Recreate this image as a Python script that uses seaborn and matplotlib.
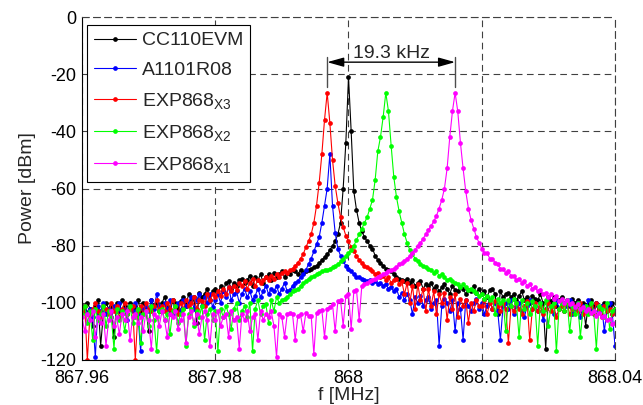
import numpy as np
import pandas as pd
import matplotlib
matplotlib.use("Agg")
import matplotlib.pyplot as plt
from matplotlib.ticker import FuncFormatter
import seaborn as sns

# spectrum bins, 0.4 kHz apart
freq = np.linspace(867.96, 868.04, 201)

cc110evm = [
    -101, -103, -100, -102, -108, -101, -99, -115, -104, -100,
    -102, -101, -112, -100, -103, -99, -101, -104, -100, -102,
    -101, -99, -103, -100, -102, -110, -99, -101, -100, -103,
    -100, -98, -101, -104, -99, -100, -102, -99.5, -98, -101,
    -97, -99, -98, -107, -96.5, -98, -97, -95, -99, -96,
    -95, -97, -94, -96, -93, -92.5, -95, -93, -94, -92,
    -91.5, -93, -92, -90.5, -94, -91, -92, -90, -93, -91,
    -90, -92, -89.5, -91, -90, -89, -91, -89.5, -90, -88.5,
    -89, -90, -88.5, -89.5, -89, -88.5, -88, -87.5, -87, -86,
    -85, -84, -83, -81.5, -80, -78.5, -76, -72, -60, -44,
    -21, -40, -61, -67.5, -72, -75, -77, -78.5, -80, -81,
    -83.5, -85, -86, -87, -88, -88.5, -89, -90, -91, -91.5,
    -92, -92.5, -91.5, -93, -92, -94, -93, -92.5, -95, -93.5,
    -94, -93, -95, -94, -96, -94.5, -93.5, -95, -97, -94,
    -95.5, -96, -94.5, -95, -97, -95.5, -96, -94, -96.5, -95,
    -97, -96, -98, -95.5, -95, -97, -104, -96, -98, -97,
    -96.5, -98, -97, -99, -97.5, -96, -99, -98, -100, -97.5,
    -98.5, -99, -97, -100, -116, -98, -99.5, -98, -101, -99,
    -98, -100, -99, -101, -98.5, -100, -99, -102, -100, -108,
    -100.5, -99, -101, -100, -102, -101, -100, -103, -101, -100,
    -102,
]

a1101r08 = [
    -103, -101, -104, -102, -105, -119, -101, -103, -100, -104,
    -102, -105, -101, -103, -100, -104, -102, -106, -101, -103,
    -100, -104, -117, -102, -101, -103, -99, -102, -97, -101,
    -103, -100, -102, -99, -104, -101, -100, -103, -99, -101,
    -100, -98, -102, -99, -97, -101, -98, -100, -97, -101.5,
    -99, -97, -100, -96, -98, -94.5, -99, -97, -96, -100,
    -97, -95, -98, -96, -99, -97.5, -95, -98, -96, -94,
    -97, -95, -96, -94, -97, -95, -93, -96, -95.5, -94,
    -93, -92.5, -91, -90, -88.5, -86.5, -84.5, -82, -79.5, -77,
    -72, -66, -60, -48, -66, -75.5, -81, -83.5, -85.5, -87,
    -88, -89, -90, -91, -91, -91.5, -92, -92.5, -92, -93,
    -92.5, -93.5, -93, -94, -93.5, -95, -94.5, -96, -95, -98,
    -96.5, -99, -97, -99, -104, -98, -100, -97.5, -101, -99,
    -98, -102, -100, -99, -115, -101, -98.5, -100, -103, -99,
    -110, -100, -102, -113, -99, -101, -103, -100, -98.5, -102,
    -100, -104, -101, -99, -102, -100, -103, -113, -101, -100,
    -102, -99, -104, -101, -100, -103, -105, -101, -99, -102,
    -101, -103, -100, -106, -102, -100, -101, -104, -99, -102,
    -100, -103, -101, -99, -104, -102, -100, -105, -101, -103,
    -99, -102, -104, -100, -103, -101, -110, -102, -100, -104,
    -115,
]

exp868_x3 = [
    -103, -101, -120, -104, -102, -100, -103, -105, -101, -102,
    -104, -100, -103, -101, -105, -102, -100, -104, -102, -101,
    -120, -103, -101, -104, -100, -102, -103, -101, -99, -102,
    -101, -103, -100, -102, -99, -101, -104, -100, -102, -99,
    -101, -100, -98, -102, -99, -99.5, -101, -97, -99, -97,
    -98, -96, -97.5, -95, -97, -94.5, -96, -94, -95.5, -93,
    -94, -92.5, -95, -93, -91.5, -94, -92, -93, -92, -91,
    -92, -90.5, -91.5, -90, -91, -89.5, -89, -89.5, -88.5, -88,
    -87, -86, -84.5, -83, -80.5, -78.5, -76, -72, -66, -58,
    -48, -36, -26.5, -37, -50, -59, -65, -70, -73.5, -76.5,
    -78.5, -80.5, -82, -83.5, -85, -86, -87, -87.5, -88, -89,
    -90, -89.5, -91, -90.5, -92, -91, -93, -92, -91.5, -93.5,
    -92.5, -97, -93, -100, -94, -102, -93.5, -99, -95, -103,
    -95, -101, -96, -104, -97, -100, -96.5, -106, -98, -102,
    -97, -105, -98.5, -101, -99, -107, -100, -103, -99, -101,
    -101, -99, -104, -100, -102, -99.5, -101, -103, -100, -102,
    -114, -101, -103, -100, -102, -104, -101, -99.5, -113, -102,
    -100, -103, -101, -104, -102, -100, -103, -101, -105, -102,
    -101, -103, -100, -104, -102, -101, -103, -100, -104, -102,
    -103, -101, -104, -100, -102, -105, -101, -103, -102, -104,
    -103,
]

exp868_x2 = [
    -104, -101, -107, -103, -113, -102, -106, -104, -101, -108,
    -103, -105, -116, -102, -106, -103, -110, -104, -101, -107,
    -105, -102, -114, -104, -103, -108, -101, -106, -117, -103,
    -102, -106, -104, -111, -103, -101, -107, -104, -102, -115,
    -104, -102, -108, -103, -105, -101, -113, -104, -102, -106,
    -103, -117, -102, -105, -101, -104, -109, -102, -100, -106,
    -103, -101, -105, -100, -117, -102, -99, -104, -101, -100.5,
    -107, -99, -103, -98, -100, -99, -98.5, -98, -97, -96,
    -95.5, -95, -94, -93, -92.5, -91.5, -91, -90.5, -90, -89.5,
    -89, -88.5, -88.5, -88, -87.5, -87, -86.5, -85.5, -84.5, -83.5,
    -82.5, -81.5, -80, -78, -76, -74, -72, -70, -67, -64,
    -57, -47, -42, -35, -26.5, -33, -45, -56, -63, -68,
    -72, -76, -79, -81.5, -83, -84.5, -85.5, -86.5, -87, -87.5,
    -88, -88.5, -89.5, -89, -90.5, -90, -91, -92, -91.5, -92.5,
    -93, -93.5, -94.5, -93.5, -94.5, -95.5, -95, -96, -96.5, -97.5,
    -97, -98.5, -97.5, -99, -98, -104, -98.5, -100, -99, -110,
    -99, -101, -98.5, -100, -112, -99, -102, -100, -104, -99.5,
    -101, -115, -100, -103, -99, -108, -101, -100, -117, -102,
    -100, -103, -99, -110, -101, -104, -100, -112, -102, -101,
    -104, -100, -103, -116, -101, -102, -105, -100, -109, -103,
    -102,
]

exp868_x1 = [
    -105, -110, -104, -106, -103, -112, -105, -107, -104, -115,
    -106, -103, -108, -105, -111, -104, -106, -103, -113, -105,
    -104, -107, -105, -110, -103, -106, -116, -104, -105, -108,
    -103, -106, -112, -104, -105, -103, -109, -106, -104, -114,
    -105, -103, -107, -104, -111, -105, -103, -106, -115, -104,
    -106, -103, -108, -105, -104, -112, -103, -106, -105, -116,
    -104, -106, -103, -110, -105, -104, -113, -103, -106, -104,
    -105, -103, -108, -119, -104, -105, -112, -104, -103.5, -104,
    -113, -104.5, -104, -110, -103.5, -104.5, -104.5, -118, -103.5, -103,
    -102.5, -112, -102, -101.5, -100.5, -110, -99.5, -99, -108, -97.5,
    -97, -109, -96, -95.5, -106, -94, -93.5, -93, -92.5, -92,
    -91.5, -91, -90.5, -90, -89.5, -89, -88.5, -88, -87.5, -86.5,
    -86, -85.5, -84.5, -83.5, -82.5, -81.5, -80, -79, -77.5, -76,
    -74.5, -73, -71.5, -69.5, -67, -64, -60, -53, -42, -33,
    -26.5, -33, -44, -53, -61, -67, -71, -74, -77, -79,
    -81, -82.5, -82.5, -84.5, -84.5, -86, -86.5, -88, -88, -89.5,
    -89, -90.5, -90.5, -92, -91.5, -93, -92.5, -94, -93.5, -95,
    -94.5, -96, -95.5, -97, -96.5, -98, -97, -98.5, -97.5, -99.5,
    -98.5, -100, -99, -100.5, -100, -101.5, -100.5, -102, -101.5, -103,
    -102, -103.5, -103, -104.5, -103.5, -105, -104.5, -106, -105.5, -107.5,
    -107,
]

labels = ['CC110EVM', 'A1101R08',
          r'EXP868$_{\mathregular{X3}}$', r'EXP868$_{\mathregular{X2}}$',
          r'EXP868$_{\mathregular{X1}}$']
series = [cc110evm, a1101r08, exp868_x3, exp868_x2, exp868_x1]
colors = ['#000000', '#0000ff', '#ff0000', '#00ff00', '#ff00ff']

sns.set_style('white')
plt.rcParams['font.family'] = ['Liberation Sans', 'DejaVu Sans']
plt.rcParams['mathtext.fontset'] = 'custom'
plt.rcParams['mathtext.rm'] = 'Liberation Sans'
plt.rcParams['mathtext.default'] = 'regular'
plt.rcParams['axes.unicode_minus'] = False

fs = 14

fig = plt.figure(figsize=(6.43, 4.05), dpi=100)
ax = fig.add_axes([82 / 643, 45 / 405, 533 / 643, 343 / 405])

for vals, lab, col in zip(series, labels, colors):
    sns.lineplot(x=freq, y=vals, color=col, label=lab, ax=ax,
                 marker='o', markersize=3.4, markeredgewidth=0,
                 linewidth=0.8, estimator=None, sort=False)

ax.set_xlim(867.96, 868.04)
ax.set_ylim(-120, 0)
ax.set_xticks([867.96, 867.98, 868.0, 868.02, 868.04])
ax.set_yticks(np.arange(-120, 1, 20))
ax.xaxis.set_major_formatter(FuncFormatter(lambda v, p: '%g' % round(v, 4)))
ax.tick_params(direction='in', length=4, width=0.8, labelsize=13, colors='k')
ax.tick_params(axis='y', pad=4)
ax.tick_params(axis='x', pad=7)
ax.set_xlabel('f [MHz]', fontsize=fs, labelpad=0)
ax.set_ylabel('Power [dBm]', fontsize=fs, labelpad=3)

ax.grid(True, color='0.25', linestyle=(0, (6, 4)), linewidth=0.8)
for s in ['left', 'bottom']:
    ax.spines[s].set_color('k')
    ax.spines[s].set_linewidth(0.8)
for s in ['top', 'right']:
    ax.spines[s].set_color('0.25')
    ax.spines[s].set_linestyle((0, (6, 4)))
    ax.spines[s].set_linewidth(0.8)

# spacing between the X3 and X1 peaks
f_lo = freq[int(np.argmax(exp868_x3))]
f_hi = freq[int(np.argmax(exp868_x1))]
for fx in (f_lo, f_hi):
    ax.plot([fx, fx], [-14, -24.5], color='0.3', linewidth=1)
ax.annotate('', xy=(f_hi, -15.8), xytext=(f_lo, -15.8),
            arrowprops=dict(arrowstyle='<|-|>,head_length=1.0,head_width=0.28',
                            color='k', linewidth=1, shrinkA=0, shrinkB=0))
ax.text((f_lo + f_hi) / 2, -12.8, '19.3 kHz', ha='center', va='center',
        fontsize=fs)

leg = ax.legend(loc='upper left', bbox_to_anchor=(0.009, 0.977),
                borderaxespad=0, fontsize=fs, fancybox=False, framealpha=1,
                edgecolor='k', handlelength=2.2, labelspacing=0.62,
                handletextpad=0.3, borderpad=0.35)
leg.get_frame().set_linewidth(0.8)

fig.savefig('out.png', dpi=100)
